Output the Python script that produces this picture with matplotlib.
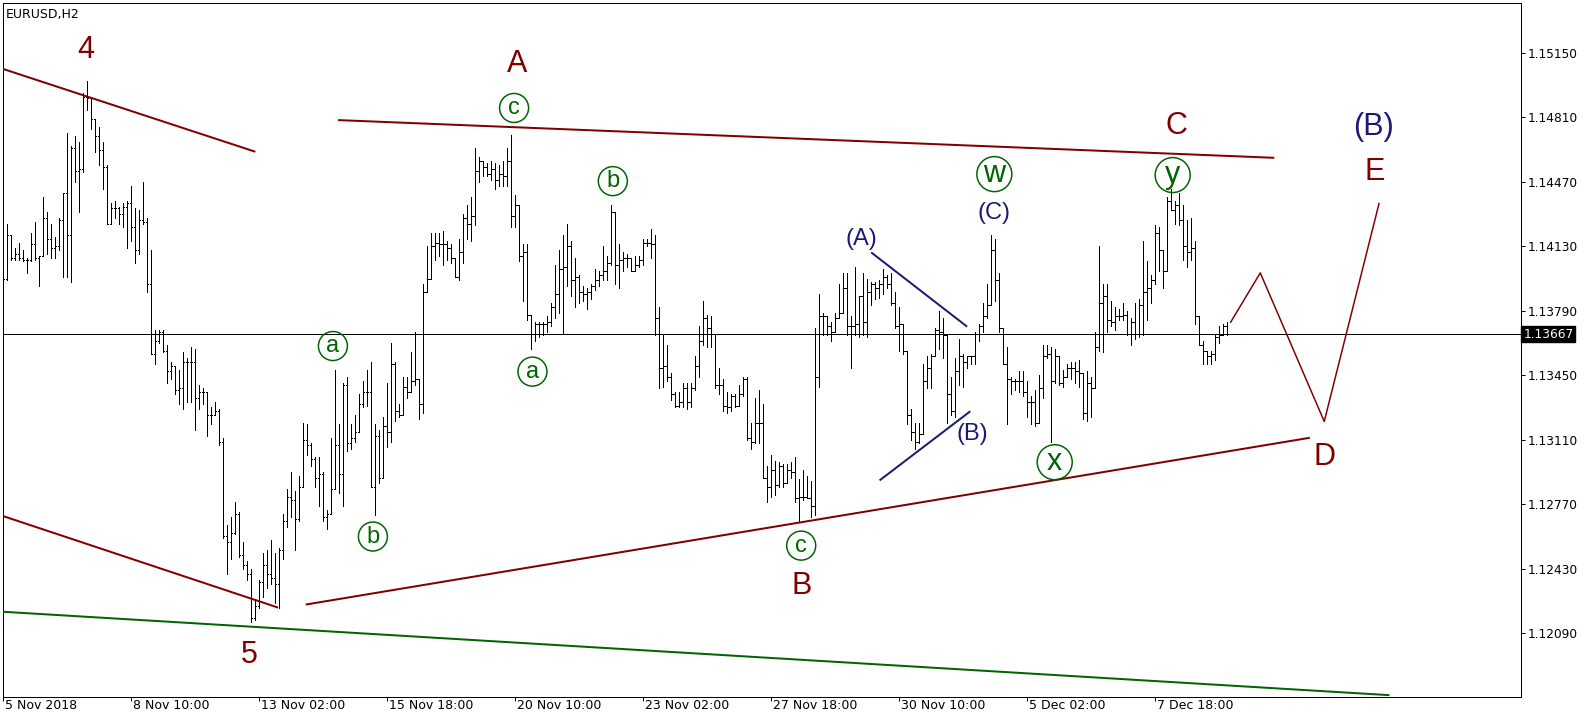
import matplotlib
matplotlib.use("Agg")
import matplotlib.pyplot as plt
import matplotlib.transforms as mtransforms
from matplotlib.collections import LineCollection

symbol_title = "EURUSD,H2"

bar_open = [
 1.1397, 1.1396, 1.1419, 1.1407, 1.1409, 1.1407, 1.1406, 1.1406, 1.1414, 1.1407,
 1.1408, 1.1428, 1.1417, 1.1412, 1.1413, 1.1427, 1.1441, 1.1419, 1.1465, 1.1453,
 1.1454, 1.1492, 1.1491, 1.1480, 1.1471, 1.1464, 1.1455, 1.1425, 1.1433, 1.1433,
 1.1430, 1.1434, 1.1436, 1.1423, 1.1411, 1.1427, 1.1426, 1.1393, 1.1356, 1.1363,
 1.1368, 1.1358, 1.1347, 1.1350, 1.1337, 1.1338, 1.1352, 1.1352, 1.1352, 1.1333,
 1.1336, 1.1336, 1.1324, 1.1324, 1.1326, 1.1310, 1.1260, 1.1257, 1.1262, 1.1272,
 1.1250, 1.1245, 1.1240, 1.1217, 1.1223, 1.1236, 1.1245, 1.1240, 1.1238, 1.1235,
 1.1253, 1.1268, 1.1281, 1.1279, 1.1269, 1.1286, 1.1311, 1.1308, 1.1301, 1.1291,
 1.1293, 1.1270, 1.1272, 1.1285, 1.1308, 1.1293, 1.1340, 1.1309, 1.1312, 1.1315,
 1.1330, 1.1336, 1.1336, 1.1286, 1.1313, 1.1291, 1.1318, 1.1315, 1.1351, 1.1326,
 1.1324, 1.1339, 1.1336, 1.1342, 1.1343, 1.1330, 1.1389, 1.1396, 1.1413, 1.1415,
 1.1414, 1.1414, 1.1412, 1.1407, 1.1397, 1.1410, 1.1428, 1.1425, 1.1429, 1.1453,
 1.1458, 1.1455, 1.1451, 1.1454, 1.1448, 1.1451, 1.1450, 1.1458, 1.1429, 1.1435,
 1.1408, 1.1410, 1.1377, 1.1367, 1.1372, 1.1372, 1.1372, 1.1373, 1.1381, 1.1388,
 1.1401, 1.1402, 1.1413, 1.1395, 1.1397, 1.1389, 1.1388, 1.1389, 1.1392, 1.1395,
 1.1398, 1.1400, 1.1404, 1.1431, 1.1403, 1.1406, 1.1407, 1.1407, 1.1400, 1.1403,
 1.1406, 1.1415, 1.1415, 1.1414, 1.1375, 1.1349, 1.1350, 1.1344, 1.1335, 1.1329,
 1.1331, 1.1338, 1.1331, 1.1338, 1.1350, 1.1363, 1.1375, 1.1370, 1.1367, 1.1340,
 1.1340, 1.1329, 1.1328, 1.1334, 1.1329, 1.1335, 1.1343, 1.1312, 1.1310, 1.1320,
 1.1320, 1.1291, 1.1286, 1.1295, 1.1287, 1.1297, 1.1288, 1.1295, 1.1294, 1.1280,
 1.1281, 1.1281, 1.1280, 1.1276, 1.1344, 1.1376, 1.1376, 1.1371, 1.1368, 1.1375,
 1.1378, 1.1391, 1.1371, 1.1371, 1.1372, 1.1387, 1.1373, 1.1389, 1.1393, 1.1391,
 1.1393, 1.1397, 1.1393, 1.1383, 1.1371, 1.1372, 1.1358, 1.1324, 1.1315, 1.1310,
 1.1314, 1.1342, 1.1349, 1.1355, 1.1369, 1.1368, 1.1366, 1.1335, 1.1326, 1.1347,
 1.1355, 1.1352, 1.1355, 1.1355, 1.1367, 1.1371, 1.1376, 1.1382, 1.1411, 1.1395,
 1.1370, 1.1351, 1.1343, 1.1342, 1.1342, 1.1342, 1.1336, 1.1331, 1.1331, 1.1320,
 1.1338, 1.1355, 1.1356, 1.1342, 1.1355, 1.1341, 1.1344, 1.1349, 1.1349, 1.1347,
 1.1346, 1.1325, 1.1341, 1.1338, 1.1360, 1.1383, 1.1387, 1.1374, 1.1373, 1.1376,
 1.1376, 1.1377, 1.1367, 1.1373, 1.1367, 1.1382, 1.1389, 1.1391, 1.1395, 1.1420,
 1.1411, 1.1400, 1.1437, 1.1432, 1.1435, 1.1427, 1.1413, 1.1410, 1.1412, 1.1376,
 1.1361, 1.1358, 1.1355, 1.1356, 1.1365, 1.1366, 1.1371]

bar_high = [
 1.1398, 1.1425, 1.1418, 1.1412, 1.1415, 1.1411, 1.1407, 1.1420, 1.1426, 1.1408,
 1.1439, 1.1431, 1.1425, 1.1418, 1.1428, 1.1441, 1.1473, 1.1466, 1.1471, 1.1468,
 1.1494, 1.1500, 1.1492, 1.1480, 1.1476, 1.1468, 1.1456, 1.1436, 1.1437, 1.1434,
 1.1436, 1.1437, 1.1445, 1.1433, 1.1432, 1.1447, 1.1428, 1.1411, 1.1369, 1.1369,
 1.1369, 1.1361, 1.1352, 1.1350, 1.1348, 1.1357, 1.1354, 1.1360, 1.1359, 1.1340,
 1.1338, 1.1328, 1.1328, 1.1331, 1.1327, 1.1312, 1.1266, 1.1270, 1.1278, 1.1273,
 1.1257, 1.1247, 1.1243, 1.1227, 1.1237, 1.1251, 1.1253, 1.1258, 1.1251, 1.1254,
 1.1272, 1.1285, 1.1294, 1.1284, 1.1292, 1.1320, 1.1319, 1.1309, 1.1302, 1.1302,
 1.1294, 1.1274, 1.1312, 1.1348, 1.1319, 1.1341, 1.1344, 1.1319, 1.1324, 1.1335,
 1.1342, 1.1348, 1.1352, 1.1319, 1.1316, 1.1323, 1.1341, 1.1362, 1.1352, 1.1330,
 1.1344, 1.1344, 1.1357, 1.1368, 1.1341, 1.1393, 1.1413, 1.1420, 1.1420, 1.1420,
 1.1421, 1.1416, 1.1414, 1.1407, 1.1417, 1.1430, 1.1435, 1.1439, 1.1465, 1.1460,
 1.1458, 1.1457, 1.1458, 1.1457, 1.1456, 1.1458, 1.1465, 1.1472, 1.1440, 1.1435,
 1.1414, 1.1414, 1.1377, 1.1373, 1.1373, 1.1373, 1.1376, 1.1383, 1.1403, 1.1411,
 1.1419, 1.1425, 1.1416, 1.1407, 1.1398, 1.1392, 1.1391, 1.1393, 1.1401, 1.1400,
 1.1413, 1.1408, 1.1435, 1.1416, 1.1414, 1.1410, 1.1409, 1.1407, 1.1408, 1.1408,
 1.1417, 1.1417, 1.1422, 1.1419, 1.1381, 1.1366, 1.1361, 1.1346, 1.1336, 1.1336,
 1.1341, 1.1341, 1.1341, 1.1355, 1.1371, 1.1384, 1.1377, 1.1376, 1.1367, 1.1349,
 1.1343, 1.1336, 1.1335, 1.1335, 1.1340, 1.1344, 1.1344, 1.1320, 1.1333, 1.1337,
 1.1330, 1.1297, 1.1303, 1.1300, 1.1299, 1.1298, 1.1298, 1.1299, 1.1302, 1.1290,
 1.1295, 1.1292, 1.1289, 1.1370, 1.1388, 1.1378, 1.1372, 1.1373, 1.1378, 1.1393,
 1.1399, 1.1399, 1.1376, 1.1402, 1.1387, 1.1399, 1.1396, 1.1394, 1.1394, 1.1395,
 1.1401, 1.1398, 1.1399, 1.1389, 1.1381, 1.1372, 1.1358, 1.1327, 1.1320, 1.1320,
 1.1351, 1.1355, 1.1356, 1.1370, 1.1379, 1.1375, 1.1367, 1.1344, 1.1354, 1.1364,
 1.1356, 1.1355, 1.1355, 1.1368, 1.1372, 1.1383, 1.1393, 1.1419, 1.1417, 1.1399,
 1.1370, 1.1360, 1.1344, 1.1343, 1.1347, 1.1347, 1.1342, 1.1334, 1.1337, 1.1345,
 1.1361, 1.1361, 1.1360, 1.1359, 1.1355, 1.1348, 1.1351, 1.1352, 1.1352, 1.1353,
 1.1346, 1.1347, 1.1344, 1.1368, 1.1413, 1.1393, 1.1393, 1.1384, 1.1381, 1.1380,
 1.1383, 1.1379, 1.1375, 1.1383, 1.1385, 1.1416, 1.1405, 1.1398, 1.1424, 1.1423,
 1.1407, 1.1439, 1.1443, 1.1437, 1.1441, 1.1435, 1.1427, 1.1428, 1.1416, 1.1376,
 1.1363, 1.1358, 1.1358, 1.1366, 1.1371, 1.1372, 1.1373]

bar_low = [
 1.1394, 1.1395, 1.1406, 1.1406, 1.1406, 1.1405, 1.1399, 1.1405, 1.1406, 1.1392,
 1.1408, 1.1409, 1.1407, 1.1407, 1.1411, 1.1397, 1.1397, 1.1394, 1.1447, 1.1431,
 1.1452, 1.1485, 1.1475, 1.1463, 1.1456, 1.1443, 1.1425, 1.1425, 1.1428, 1.1425,
 1.1423, 1.1412, 1.1416, 1.1404, 1.1409, 1.1425, 1.1389, 1.1356, 1.1351, 1.1362,
 1.1357, 1.1341, 1.1343, 1.1335, 1.1330, 1.1327, 1.1331, 1.1331, 1.1316, 1.1327,
 1.1330, 1.1313, 1.1319, 1.1325, 1.1308, 1.1259, 1.1240, 1.1248, 1.1261, 1.1249,
 1.1243, 1.1237, 1.1215, 1.1216, 1.1222, 1.1228, 1.1233, 1.1235, 1.1225, 1.1222,
 1.1248, 1.1265, 1.1270, 1.1253, 1.1268, 1.1291, 1.1303, 1.1297, 1.1286, 1.1276,
 1.1268, 1.1264, 1.1272, 1.1285, 1.1283, 1.1276, 1.1305, 1.1306, 1.1310, 1.1316,
 1.1328, 1.1329, 1.1286, 1.1271, 1.1288, 1.1300, 1.1307, 1.1310, 1.1321, 1.1323,
 1.1332, 1.1333, 1.1336, 1.1340, 1.1322, 1.1325, 1.1393, 1.1403, 1.1406, 1.1408,
 1.1403, 1.1406, 1.1404, 1.1397, 1.1395, 1.1404, 1.1417, 1.1416, 1.1424, 1.1447,
 1.1450, 1.1450, 1.1448, 1.1443, 1.1445, 1.1445, 1.1445, 1.1423, 1.1423, 1.1405,
 1.1384, 1.1374, 1.1359, 1.1363, 1.1365, 1.1366, 1.1368, 1.1371, 1.1375, 1.1378,
 1.1367, 1.1392, 1.1387, 1.1381, 1.1383, 1.1384, 1.1380, 1.1385, 1.1390, 1.1392,
 1.1395, 1.1395, 1.1403, 1.1393, 1.1391, 1.1400, 1.1402, 1.1400, 1.1400, 1.1402,
 1.1403, 1.1413, 1.1407, 1.1366, 1.1338, 1.1339, 1.1342, 1.1332, 1.1328, 1.1328,
 1.1328, 1.1327, 1.1328, 1.1337, 1.1344, 1.1361, 1.1360, 1.1360, 1.1338, 1.1335,
 1.1326, 1.1325, 1.1326, 1.1328, 1.1329, 1.1334, 1.1311, 1.1306, 1.1309, 1.1309,
 1.1291, 1.1278, 1.1281, 1.1282, 1.1286, 1.1286, 1.1289, 1.1291, 1.1278, 1.1268,
 1.1279, 1.1280, 1.1270, 1.1271, 1.1339, 1.1366, 1.1366, 1.1363, 1.1369, 1.1375,
 1.1384, 1.1366, 1.1349, 1.1366, 1.1365, 1.1366, 1.1365, 1.1382, 1.1385, 1.1386,
 1.1388, 1.1391, 1.1382, 1.1370, 1.1358, 1.1356, 1.1319, 1.1311, 1.1306, 1.1309,
 1.1314, 1.1338, 1.1338, 1.1359, 1.1359, 1.1354, 1.1320, 1.1324, 1.1323, 1.1340,
 1.1339, 1.1349, 1.1351, 1.1351, 1.1363, 1.1368, 1.1375, 1.1384, 1.1384, 1.1368,
 1.1351, 1.1319, 1.1335, 1.1337, 1.1336, 1.1334, 1.1323, 1.1319, 1.1318, 1.1321,
 1.1333, 1.1354, 1.1310, 1.1341, 1.1340, 1.1339, 1.1344, 1.1343, 1.1341, 1.1339,
 1.1322, 1.1321, 1.1323, 1.1338, 1.1358, 1.1357, 1.1368, 1.1371, 1.1369, 1.1374,
 1.1374, 1.1366, 1.1361, 1.1364, 1.1365, 1.1366, 1.1374, 1.1383, 1.1393, 1.1400,
 1.1391, 1.1400, 1.1432, 1.1425, 1.1424, 1.1406, 1.1402, 1.1406, 1.1372, 1.1361,
 1.1351, 1.1351, 1.1351, 1.1353, 1.1362, 1.1366, 1.1366]

bar_close = [
 1.1396, 1.1419, 1.1407, 1.1409, 1.1407, 1.1406, 1.1406, 1.1414, 1.1407, 1.1408,
 1.1428, 1.1417, 1.1412, 1.1413, 1.1427, 1.1441, 1.1419, 1.1465, 1.1453, 1.1454,
 1.1492, 1.1491, 1.1480, 1.1471, 1.1464, 1.1455, 1.1425, 1.1433, 1.1433, 1.1430,
 1.1434, 1.1436, 1.1423, 1.1411, 1.1427, 1.1426, 1.1393, 1.1356, 1.1363, 1.1368,
 1.1358, 1.1347, 1.1350, 1.1337, 1.1338, 1.1352, 1.1352, 1.1352, 1.1333, 1.1336,
 1.1336, 1.1324, 1.1324, 1.1326, 1.1310, 1.1260, 1.1257, 1.1262, 1.1272, 1.1250,
 1.1245, 1.1240, 1.1217, 1.1223, 1.1236, 1.1245, 1.1240, 1.1238, 1.1235, 1.1253,
 1.1268, 1.1281, 1.1279, 1.1269, 1.1286, 1.1311, 1.1308, 1.1301, 1.1291, 1.1293,
 1.1270, 1.1272, 1.1285, 1.1308, 1.1293, 1.1340, 1.1309, 1.1312, 1.1315, 1.1330,
 1.1336, 1.1336, 1.1286, 1.1313, 1.1291, 1.1318, 1.1315, 1.1351, 1.1326, 1.1324,
 1.1339, 1.1336, 1.1342, 1.1343, 1.1330, 1.1389, 1.1396, 1.1413, 1.1415, 1.1414,
 1.1414, 1.1412, 1.1407, 1.1397, 1.1410, 1.1428, 1.1425, 1.1429, 1.1453, 1.1458,
 1.1455, 1.1451, 1.1454, 1.1448, 1.1451, 1.1450, 1.1458, 1.1429, 1.1435, 1.1408,
 1.1410, 1.1377, 1.1367, 1.1372, 1.1372, 1.1372, 1.1373, 1.1381, 1.1388, 1.1401,
 1.1402, 1.1413, 1.1395, 1.1397, 1.1389, 1.1388, 1.1389, 1.1392, 1.1395, 1.1398,
 1.1400, 1.1404, 1.1431, 1.1403, 1.1406, 1.1407, 1.1407, 1.1400, 1.1403, 1.1406,
 1.1415, 1.1415, 1.1414, 1.1375, 1.1349, 1.1350, 1.1344, 1.1335, 1.1329, 1.1331,
 1.1338, 1.1331, 1.1338, 1.1350, 1.1363, 1.1375, 1.1370, 1.1367, 1.1340, 1.1340,
 1.1329, 1.1328, 1.1334, 1.1329, 1.1335, 1.1343, 1.1312, 1.1310, 1.1320, 1.1320,
 1.1291, 1.1286, 1.1295, 1.1287, 1.1297, 1.1288, 1.1295, 1.1294, 1.1280, 1.1281,
 1.1281, 1.1280, 1.1276, 1.1344, 1.1376, 1.1376, 1.1371, 1.1368, 1.1375, 1.1378,
 1.1391, 1.1371, 1.1371, 1.1372, 1.1387, 1.1373, 1.1389, 1.1393, 1.1391, 1.1393,
 1.1397, 1.1393, 1.1383, 1.1371, 1.1372, 1.1358, 1.1324, 1.1315, 1.1310, 1.1314,
 1.1342, 1.1349, 1.1355, 1.1369, 1.1368, 1.1366, 1.1335, 1.1326, 1.1347, 1.1355,
 1.1352, 1.1355, 1.1355, 1.1367, 1.1371, 1.1376, 1.1382, 1.1411, 1.1395, 1.1370,
 1.1351, 1.1343, 1.1342, 1.1342, 1.1342, 1.1336, 1.1331, 1.1331, 1.1320, 1.1338,
 1.1355, 1.1356, 1.1342, 1.1355, 1.1341, 1.1344, 1.1349, 1.1349, 1.1347, 1.1346,
 1.1325, 1.1341, 1.1338, 1.1360, 1.1383, 1.1387, 1.1374, 1.1373, 1.1376, 1.1376,
 1.1377, 1.1367, 1.1373, 1.1367, 1.1382, 1.1389, 1.1391, 1.1395, 1.1420, 1.1411,
 1.1400, 1.1437, 1.1432, 1.1435, 1.1427, 1.1413, 1.1410, 1.1412, 1.1376, 1.1361,
 1.1358, 1.1355, 1.1356, 1.1365, 1.1366, 1.1371, 1.13667]

time_tick_index = [0, 32, 64, 96, 128, 160, 192, 224, 256, 288]
time_tick_labels = ["5 Nov 2018", "8 Nov 10:00", "13 Nov 02:00", "15 Nov 18:00",
                    "20 Nov 10:00", "23 Nov 02:00", "27 Nov 18:00", "30 Nov 10:00",
                    "5 Dec 02:00", "7 Dec 18:00"]
price_ticks = [1.12090, 1.12430, 1.12770, 1.13110, 1.13450,
               1.13790, 1.14130, 1.14470, 1.14810, 1.15150]
last_price = 1.13667

# wave annotations: (text, bar position, price)
major_labels = [("4", 20.8, 1.15165), ("5", 61.7, 1.11972), ("A", 128.6, 1.15092),
                ("B", 199.6, 1.12337), ("C", 293.5, 1.14764), ("D", 330.4, 1.13019),
                ("E", 343.1, 1.14522)]
navy_big_labels = [("(B)", 342.6, 1.14759)]
navy_labels = [("(A)", 214.6, 1.14170), ("(B)", 242.3, 1.13139), ("(C)", 247.9, 1.14304)]
green_small = [("c", 127.8, 1.14860), ("b", 152.5, 1.14474), ("a", 82.5, 1.13604),
               ("a", 132.4, 1.13469), ("b", 92.5, 1.12599), ("c", 199.6, 1.12551)]
green_big = [("w", 247.9, 1.14511), ("y", 292.5, 1.14506), ("x", 263.0, 1.12991)]

# trend lines (bar position, price)
red_lines = [[(0.0, 1.15066), (63.1, 1.14629)],
             [(0.0, 1.12707), (68.8, 1.12224)],
             [(83.8, 1.14796), (317.9, 1.14597)],
             [(75.7, 1.12240), (326.8, 1.13120)]]
green_lines = [[(0.0, 1.12202), (346.7, 1.11762)]]
navy_lines = [[(217.1, 1.14098), (241.1, 1.13706)],
              [(219.2, 1.12895), (241.9, 1.13260)]]
forecast_path = [(307.0, 1.13730), (314.4, 1.13990), (330.4, 1.13206), (344.1, 1.14356)]

MAROON = "#800000"
NAVY = "#1b1b72"
DGREEN = "#006400"
PX = 0.72  # one pixel in points at 100 dpi

fig = plt.figure(figsize=(15.96, 7.23), dpi=100)
ax = fig.add_axes([3 / 1596, 1 - 697 / 723, 1518 / 1596, 694 / 723])
ax.set_xlim(0.075, 379.6)
ax.set_ylim(1.117523, 1.154138)

# OHLC bars
segs = []
for i, (o, h, l, c) in enumerate(zip(bar_open, bar_high, bar_low, bar_close)):
    lo = min(l, o, c)
    hi = max(h, o, c)
    segs.append([(i, lo), (i, hi)])
    segs.append([(i - 0.35, o), (i, o)])
    segs.append([(i, c), (i + 0.35, c)])
ax.add_collection(LineCollection(segs, colors="black", linewidths=PX,
                                 antialiaseds=False, zorder=2))

# current price line
ax.axhline(last_price, color="black", lw=PX, zorder=1.5)

for ln in red_lines:
    ax.plot([p[0] for p in ln], [p[1] for p in ln], color=MAROON, lw=2 * PX,
            solid_capstyle="butt", zorder=3)
for ln in green_lines:
    ax.plot([p[0] for p in ln], [p[1] for p in ln], color=DGREEN, lw=2 * PX,
            solid_capstyle="butt", zorder=3)
for ln in navy_lines:
    ax.plot([p[0] for p in ln], [p[1] for p in ln], color=NAVY, lw=2 * PX,
            solid_capstyle="butt", zorder=3)
ax.plot([p[0] for p in forecast_path], [p[1] for p in forecast_path],
        color=MAROON, lw=1.5 * PX, zorder=3)

LAB_FONT = ["Liberation Sans", "DejaVu Sans"]
for t, x, y in major_labels:
    ax.text(x, y, t, color=MAROON, fontsize=22, family=LAB_FONT,
            ha="center", va="center", zorder=5)
for t, x, y in navy_big_labels:
    ax.text(x, y, t, color=NAVY, fontsize=22, family=LAB_FONT,
            ha="center", va="center", zorder=5)
for t, x, y in navy_labels:
    ax.text(x, y, t, color=NAVY, fontsize=17, family=LAB_FONT,
            ha="center", va="center", zorder=5)
for t, x, y in green_small:
    ax.scatter([x], [y], s=(29 * PX) ** 2, facecolors="none", edgecolors=DGREEN,
               linewidths=1.5 * PX, zorder=5)
    ax.text(x, y, t, color=DGREEN, fontsize=17, family=LAB_FONT,
            ha="center", va="center", zorder=6)
for t, x, y in green_big:
    ax.scatter([x], [y], s=(35 * PX) ** 2, facecolors="none", edgecolors=DGREEN,
               linewidths=1.5 * PX, zorder=5)
    ax.text(x, y, t, color=DGREEN, fontsize=22, family=LAB_FONT,
            ha="center", va="center", zorder=6)

# title
ax.text(0.002, 0.993, symbol_title, transform=ax.transAxes, fontsize=9,
        family="DejaVu Sans", ha="left", va="top", zorder=6)

# axes styling
for sp in ax.spines.values():
    sp.set_linewidth(PX)
    sp.set_color("black")
ax.yaxis.tick_right()
ax.set_yticks(price_ticks)
ax.set_yticklabels([f"{v:.5f}" for v in price_ticks])
ax.tick_params(axis="y", direction="out", length=3, width=PX, pad=2,
               labelsize=8.7, right=True, left=False)
ax.set_xticks(time_tick_index)
ax.set_xticklabels([])
ax.tick_params(axis="x", direction="out", length=3, width=PX)
xtr = mtransforms.blended_transform_factory(ax.transData, ax.transAxes)
for idx, lab in zip(time_tick_index, time_tick_labels):
    ax.text(max(idx + 0.5, 0.3), -0.003, lab, transform=xtr, fontsize=9,
            family="DejaVu Sans", ha="left", va="top", clip_on=False)

# current price box
ytr = mtransforms.blended_transform_factory(ax.transAxes, ax.transData)
ax.text(1.0015, last_price, f"{last_price:.5f}", transform=ytr, fontsize=8.7,
        family="DejaVu Sans", color="white", ha="left", va="center",
        bbox=dict(boxstyle="square,pad=0.15", facecolor="black", edgecolor="black"),
        clip_on=False, zorder=7)

fig.savefig("out.png", dpi=100, facecolor="white")
